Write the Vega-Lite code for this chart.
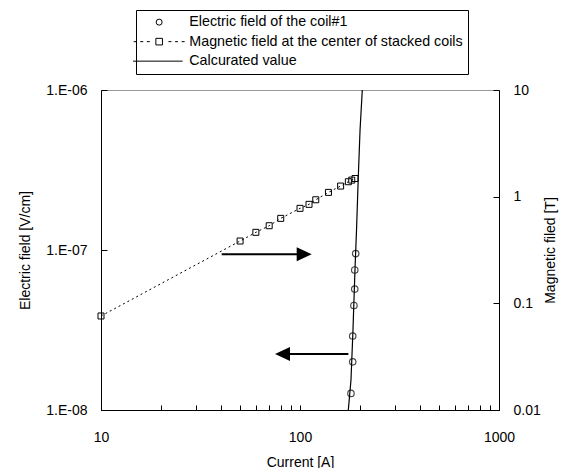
{
  "$schema": "https://vega.github.io/schema/vega-lite/v6.json",
  "width": 398,
  "height": 320,
  "autosize": {"type": "none"},
  "padding": {"left": 101, "top": 90, "right": 66, "bottom": 58},
  "background": "white",
  "config": {
    "font": "Liberation Sans",
    "view": {"stroke": "#999999", "strokeWidth": 1},
    "axis": {
      "labelFont": "Liberation Sans", "labelFontSize": 14, "labelColor": "black",
      "titleFont": "Liberation Sans", "titleFontSize": 14, "titleFontWeight": "normal", "titleColor": "black",
      "domainColor": "black", "tickColor": "black", "grid": false, "domainWidth": 1, "tickWidth": 1, "labelFlush": false
    }
  },
  "datasets": {
    "efield": [
      {"current": 190.5, "E": 9.5e-8},
      {"current": 188.4, "E": 7.5e-8},
      {"current": 188.4, "E": 5.7e-8},
      {"current": 186.6, "E": 4.5e-8},
      {"current": 184.0, "E": 2.9e-8},
      {"current": 184.0, "E": 2.0e-8},
      {"current": 180.3, "E": 1.27e-8}
    ],
    "bfield": [
      {"current": 10, "B": 0.0761},
      {"current": 50, "B": 0.384},
      {"current": 60, "B": 0.463},
      {"current": 70, "B": 0.534},
      {"current": 80, "B": 0.626},
      {"current": 100, "B": 0.777},
      {"current": 111, "B": 0.847},
      {"current": 120, "B": 0.935},
      {"current": 139, "B": 1.097},
      {"current": 160, "B": 1.257},
      {"current": 175, "B": 1.38},
      {"current": 182, "B": 1.43},
      {"current": 189, "B": 1.48}
    ],
    "calc": [
      {"current": 174.9, "E": 1.0e-8},
      {"current": 180.4, "E": 1.54e-8},
      {"current": 184.6, "E": 3.16e-8},
      {"current": 188.9, "E": 7.5e-8},
      {"current": 192.3, "E": 1.33e-7},
      {"current": 196.3, "E": 2.86e-7},
      {"current": 200.3, "E": 5.6e-7},
      {"current": 205.6, "E": 1.0e-6}
    ],
    "arrows": [
      {"dir": "right", "start": 40.4, "end": 108.7, "E": 9.4e-8},
      {"dir": "left", "start": 175, "end": 78.9, "E": 2.24e-8}
    ]
  },
  "layer": [
    {
      "layer": [
        {
          "data": {"name": "calc"},
          "mark": {"type": "line", "color": "black", "strokeWidth": 1.2},
          "encoding": {
            "x": {
              "field": "current", "type": "quantitative",
              "scale": {"type": "log", "domain": [10, 1000]},
              "axis": {
                "title": "Current [A]", "orient": "bottom",
                "values": [10, 20, 30, 40, 50, 60, 70, 80, 90, 100, 200, 300, 400, 500, 600, 700, 800, 900, 1000],
                "labelExpr": "datum.value == 10 ? '10' : datum.value == 100 ? '100' : datum.value == 1000 ? '1000' : ''",
                "tickSize": -5, "labelPadding": 25, "titlePadding": 11
              }
            },
            "y": {
              "field": "E", "type": "quantitative",
              "scale": {"type": "log", "domain": [1e-8, 1e-6]},
              "axis": {
                "title": "Electric field [V/cm]", "orient": "left",
                "values": [1e-8, 1e-7, 1e-6],
                "labelExpr": "datum.value < 5e-8 ? '1.E-08' : datum.value < 5e-7 ? '1.E-07' : '1.E-06'",
                "tickSize": -6, "labelPadding": 20, "titlePadding": 13
              }
            }
          }
        },
        {
          "data": {"name": "efield"},
          "mark": {"type": "point", "filled": false, "color": "black", "strokeWidth": 1.2, "size": 42},
          "encoding": {
            "x": {"field": "current", "type": "quantitative", "scale": {"type": "log", "domain": [10, 1000]}},
            "y": {"field": "E", "type": "quantitative", "scale": {"type": "log", "domain": [1e-8, 1e-6]}},
            "shape": {
              "datum": "Electric field of the coil#1",
              "type": "nominal",
              "scale": {
                "domain": ["Electric field of the coil#1", "Magnetic field at the center of stacked coils", "Calcurated value"],
                "range": ["circle", "M-8.5,0H-7.5M-6.3,0H-5.3M-4.1,0H-3.1M-1.1,-1.1H1.1V1.1H-1.1ZM3.1,0H4.1M5.3,0H6.3M7.5,0H8.5", "M-8.7,0H7.8"]
              },
              "legend": {
                "orient": "none", "legendX": 35, "legendY": -80, "title": null,
                "strokeColor": "black", "fillColor": "white", "padding": 5,
                "symbolSize": 36, "symbolStrokeWidth": 1, "symbolStrokeColor": "black", "symbolFillColor": "white", "symbolOpacity": 1,
                "symbolOffset": 11, "labelOffset": 23, "rowPadding": 4.5,
                "labelFont": "Liberation Sans", "labelFontSize": 14.3, "labelColor": "black", "labelLimit": 0
              }
            }
          }
        },
        {
          "data": {"name": "arrows"},
          "mark": {"type": "rule", "color": "black", "strokeWidth": 2},
          "encoding": {
            "x": {"field": "start", "type": "quantitative", "scale": {"type": "log", "domain": [10, 1000]}},
            "x2": {"field": "end"},
            "y": {"field": "E", "type": "quantitative", "scale": {"type": "log", "domain": [1e-8, 1e-6]}}
          }
        },
        {
          "data": {"name": "arrows"},
          "transform": [{"filter": "datum.dir == 'right'"}],
          "mark": {"type": "point", "shape": "M0.9,0L-2.1,-1.4L-2.1,1.4Z", "filled": true, "color": "black", "size": 100, "opacity": 1, "strokeWidth": 0},
          "encoding": {
            "x": {"field": "end", "type": "quantitative", "scale": {"type": "log", "domain": [10, 1000]}},
            "y": {"field": "E", "type": "quantitative", "scale": {"type": "log", "domain": [1e-8, 1e-6]}}
          }
        },
        {
          "data": {"name": "arrows"},
          "transform": [{"filter": "datum.dir == 'left'"}],
          "mark": {"type": "point", "shape": "M-0.9,0L2.1,-1.4L2.1,1.4Z", "filled": true, "color": "black", "size": 100, "opacity": 1, "strokeWidth": 0},
          "encoding": {
            "x": {"field": "end", "type": "quantitative", "scale": {"type": "log", "domain": [10, 1000]}},
            "y": {"field": "E", "type": "quantitative", "scale": {"type": "log", "domain": [1e-8, 1e-6]}}
          }
        }
      ]
    },
    {
      "layer": [
        {
          "data": {"name": "bfield"},
          "mark": {"type": "line", "color": "black", "strokeWidth": 1, "strokeDash": [2, 3]},
          "encoding": {
            "x": {"field": "current", "type": "quantitative", "scale": {"type": "log", "domain": [10, 1000]}},
            "y": {
              "field": "B", "type": "quantitative",
              "scale": {"type": "log", "domain": [0.01, 10]},
              "axis": {
                "title": "Magnetic filed [T]", "orient": "right",
                "values": [0.01, 0.1, 1, 10],
                "labelExpr": "datum.value < 0.05 ? '0.01' : datum.value < 0.5 ? '0.1' : datum.value < 5 ? '1' : '10'",
                "tickSize": -6, "labelPadding": 20, "titlePadding": 17, "titleAngle": 270
              }
            }
          }
        },
        {
          "data": {"name": "bfield"},
          "mark": {"type": "point", "shape": "square", "filled": false, "color": "black", "size": 36, "strokeWidth": 1, "opacity": 1},
          "encoding": {
            "x": {"field": "current", "type": "quantitative", "scale": {"type": "log", "domain": [10, 1000]}},
            "y": {"field": "B", "type": "quantitative", "scale": {"type": "log", "domain": [0.01, 10]}}
          }
        }
      ]
    }
  ],
  "resolve": {"scale": {"y": "independent"}}
}
